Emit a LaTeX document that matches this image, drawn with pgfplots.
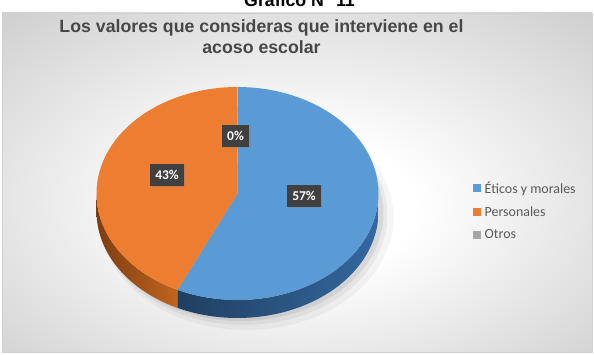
\documentclass[border=0pt]{standalone}
\usepackage{pgfplots}
\usepackage{pgfplotstable}
\pgfplotsset{compat=1.18}
\usetikzlibrary{shadows}
\usepackage{fontspec}
\setmainfont{Liberation Sans}
\newfontfamily\calibri{Carlito}
\definecolor{pieblue}{HTML}{5B9BD5}
\definecolor{pieorange}{HTML}{ED7D31}
\definecolor{piegrey}{HTML}{A5A5A5}
\definecolor{bluesideA}{HTML}{1F3F60}
\definecolor{bluesideB}{HTML}{3468A0}
\definecolor{orangesideA}{HTML}{9C4C14}
\definecolor{orangesideB}{HTML}{C2641F}
\definecolor{lblbox}{HTML}{404040}
\definecolor{titlegrey}{HTML}{474747}
\definecolor{legendgrey}{HTML}{595959}
\pgfdeclareradialshading{bgshade}{\pgfpoint{0bp}{-4bp}}{color(0bp)=(white); color(10bp)=(white); color(50bp)=(black!28); color(75bp)=(black!34)}

\pgfplotstableread{
label value
Eticos 57
Personales 43
Otros 0
}\piedata
\pgfplotstablegetelem{0}{value}\of\piedata \let\va\pgfplotsretval
\pgfplotstablegetelem{1}{value}\of\piedata \let\vb\pgfplotsretval
\pgfplotstablegetelem{2}{value}\of\piedata \let\vc\pgfplotsretval
\pgfmathsetmacro\total{\va+\vb+\vc}
\pgfmathsetmacro\angA{\va/\total*360}
\pgfmathsetmacro\angB{(\va+\vb)/\total*360}
\def\cx{237.5}\def\cy{193.5}\def\rx{141}\def\ry{106.5}\def\dd{18}
% side band of the pie between angles #1 and #2 (clockwise from top): t in [0,3]
\newcommand\sideband[3]{%
  \addplot[forget plot, draw=none, #3, domain=0:3, samples=181]
  ({\cx+\rx*sin( (x<1) ? (#1+(#2-#1)*x) : ((x<2) ? #2 : (#2-(#2-#1)*(x-2))) )},
   {\cy-\ry*cos( (x<1) ? (#1+(#2-#1)*x) : ((x<2) ? #2 : (#2-(#2-#1)*(x-2))) )
     + ((x<1) ? 0 : ((x<2) ? \dd*(x-1) : \dd))}) -- cycle;}

\begin{document}
\begin{tikzpicture}
\begin{axis}[
  scale only axis, width=594bp, height=355bp,
  xmin=0, xmax=594, ymin=0, ymax=355, y dir=reverse,
  axis lines=none, clip=false,
  legend image code/.code={\path[#1] (0bp,-4bp) rectangle (8bp,4bp);},
  legend style={draw=none, fill=none, font=\calibri\fontsize{14}{16}\selectfont,
    text=legendgrey, at={(axis cs:473,211)}, anchor=west, row sep=9bp,
    inner sep=0pt, nodes={inner sep=1.5bp},
    /tikz/every odd column/.append style={column sep=2bp}},
  legend cell align=left,
]
\coordinate (P0) at (axis cs:0,355);
\coordinate (P1) at (axis cs:594,0);
% background frame
\path[shading=bgshade, draw=black!18, line width=0.8bp] (axis cs:2,13) rectangle (axis cs:592,352);
% shadow halo
\addplot[forget plot, draw=none, fill=black, fill opacity=0.04, domain=0:360, samples=90]
  ({\cx+9+(\rx+6)*sin(x)},{\cy+\dd+6-(\ry+6)*cos(x)}) -- cycle;
\addplot[forget plot, draw=none, fill=black, fill opacity=0.05, domain=0:360, samples=90]
  ({\cx+6+(\rx+3)*sin(x)},{\cy+\dd+4-(\ry+3)*cos(x)}) -- cycle;
\addplot[forget plot, draw=none, fill=black, fill opacity=0.07, domain=0:360, samples=90]
  ({\cx+4+(\rx+1)*sin(x)},{\cy+\dd+2-(\ry+1)*cos(x)}) -- cycle;
% sides
\sideband{90}{\angA}{left color=bluesideA, right color=bluesideB}
\sideband{\angA}{270}{left color=orangesideA!80!black, right color=orangesideB}
% top faces
\addplot[forget plot, draw=none, fill=pieblue, domain=0:\angA, samples=120]
  ({\cx+\rx*sin(x)},{\cy-\ry*cos(x)}) -- (axis cs:\cx,\cy) -- cycle;
\addplot[forget plot, draw=none, fill=pieorange, domain=\angA:\angB, samples=100]
  ({\cx+\rx*sin(x)},{\cy-\ry*cos(x)}) -- (axis cs:\cx,\cy) -- cycle;
% legend
\addlegendimage{draw=none, fill=pieblue}\addlegendentry{Éticos y morales}
\addlegendimage{draw=none, fill=pieorange}\addlegendentry{Personales}
\addlegendimage{draw=none, fill=piegrey}\addlegendentry{Otros}
% labels
\tikzset{pl/.style={fill=lblbox, text=white, font=\calibri\bfseries\fontsize{13.5}{14}\selectfont,
  inner xsep=5.5bp, minimum height=22bp, drop shadow={opacity=0.35, shadow xshift=1.2bp, shadow yshift=-1.2bp}}}
\node[pl] at (axis cs:304,196) {\va\%};
\node[pl] at (axis cs:167,175) {\vb\%};
\node[pl] at (axis cs:235.5,136) {\vc\%};
% titles
\node[font=\bfseries\fontsize{17.8}{20}\selectfont, anchor=base] at (axis cs:299.5,7) {Gráfico N° 11};
\node[font=\bfseries\fontsize{17.8}{20}\selectfont, text=titlegrey, anchor=base] at (axis cs:261.5,32) {Los valores que consideras que interviene en el};
\node[font=\bfseries\fontsize{17.8}{20}\selectfont, text=titlegrey, anchor=base] at (axis cs:261.5,53) {acoso escolar};
\end{axis}
\pgfresetboundingbox
\useasboundingbox (P0) rectangle (P1);
\end{tikzpicture}
\end{document}
